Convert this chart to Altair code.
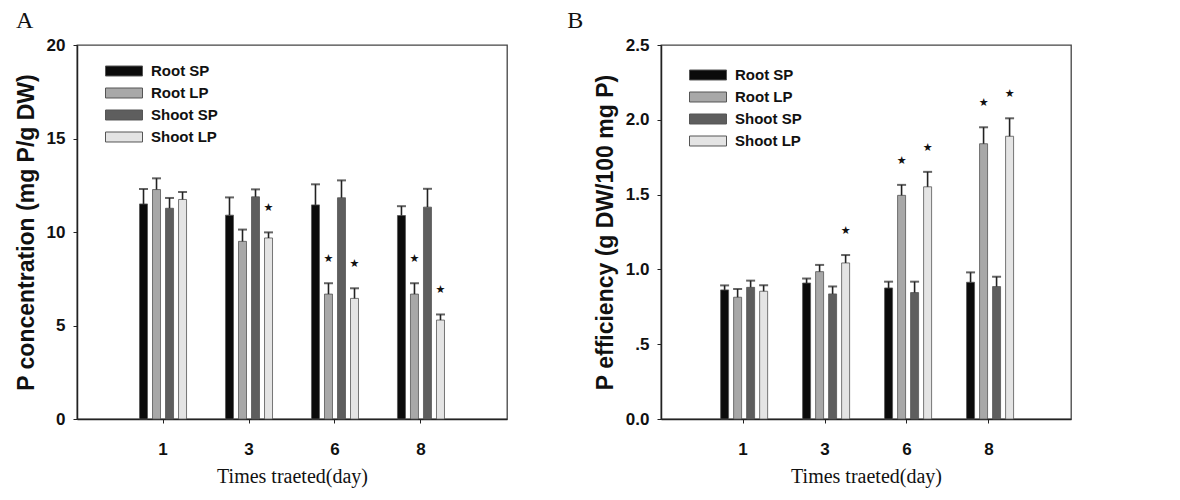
import altair as alt
import pandas as pd

days = ["1", "3", "6", "8"]
groups = ["Root SP", "Root LP", "Shoot SP", "Shoot LP"]
fill_colors = ["#0b0b0b", "#a8a8a8", "#5e5e5e", "#e4e4e4"]

# Panel A: P concentration (mg P/g DW)
conc_root_sp = [11.5, 10.9, 11.45, 10.88]
conc_root_sp_err = [0.8, 0.95, 1.1, 0.5]
conc_root_lp = [12.27, 9.5, 6.68, 6.68]
conc_root_lp_err = [0.6, 0.63, 0.58, 0.58]
conc_shoot_sp = [11.27, 11.88, 11.83, 11.33]
conc_shoot_sp_err = [0.55, 0.4, 0.93, 0.98]
conc_shoot_lp = [11.74, 9.68, 6.45, 5.29]
conc_shoot_lp_err = [0.4, 0.3, 0.54, 0.3]
conc_sig_root_sp = [False, False, False, False]
conc_sig_root_lp = [False, False, True, True]
conc_sig_shoot_sp = [False, False, False, False]
conc_sig_shoot_lp = [False, True, True, True]

# Panel B: P efficiency (g DW/100 mg P)
eff_root_sp = [0.863, 0.909, 0.876, 0.914]
eff_root_sp_err = [0.03, 0.03, 0.042, 0.066]
eff_root_lp = [0.814, 0.985, 1.495, 1.84]
eff_root_lp_err = [0.055, 0.045, 0.07, 0.11]
eff_shoot_sp = [0.88, 0.836, 0.845, 0.885]
eff_shoot_sp_err = [0.045, 0.05, 0.073, 0.066]
eff_shoot_lp = [0.854, 1.043, 1.552, 1.89]
eff_shoot_lp_err = [0.04, 0.053, 0.1, 0.12]
eff_sig_root_sp = [False, False, False, False]
eff_sig_root_lp = [False, False, True, True]
eff_sig_shoot_sp = [False, False, False, False]
eff_sig_shoot_lp = [False, True, True, True]


def make_df(values, errors, sigs):
    rows = []
    for g, vals, errs, sg in zip(groups, values, errors, sigs):
        for d, v, e, s in zip(days, vals, errs, sg):
            rows.append({"day": d, "group": g, "value": v, "top": v + e, "sig": s})
    return pd.DataFrame(rows)


df_a = make_df(
    [conc_root_sp, conc_root_lp, conc_shoot_sp, conc_shoot_lp],
    [conc_root_sp_err, conc_root_lp_err, conc_shoot_sp_err, conc_shoot_lp_err],
    [conc_sig_root_sp, conc_sig_root_lp, conc_sig_shoot_sp, conc_sig_shoot_lp],
)
df_b = make_df(
    [eff_root_sp, eff_root_lp, eff_shoot_sp, eff_shoot_lp],
    [eff_root_sp_err, eff_root_lp_err, eff_shoot_sp_err, eff_shoot_lp_err],
    [eff_sig_root_sp, eff_sig_root_lp, eff_sig_shoot_sp, eff_sig_shoot_lp],
)

LEGEND_SYMBOL = "M-1,-0.27H1V0.27H-1Z"


def panel(df, width, height, ytitle, ydomain, yvalues, label_expr, letter, letter_dx, legend_y):
    x = alt.X(
        "day:N",
        sort=days,
        title="Times traeted(day)",
        scale=alt.Scale(paddingInner=0.453, paddingOuter=0.727),
        axis=alt.Axis(
            labelAngle=0,
            labelPadding=18,
            titleFont="Liberation Serif",
            titleFontWeight="normal",
            titleFontSize=20,
            titlePadding=9,
        ),
    )
    xo = alt.XOffset(
        "group:N", sort=groups, scale=alt.Scale(paddingInner=0.385, paddingOuter=0)
    )
    yscale = alt.Scale(domain=ydomain, nice=False)
    yaxis = alt.Axis(
        values=yvalues,
        labelExpr=label_expr,
        labelPadding=8,
        titlePadding=8,
        titleFontSize=23,
    )
    y = alt.Y("value:Q", title=ytitle, scale=yscale, axis=yaxis)
    ytop = alt.Y("top:Q", title=ytitle, scale=yscale, axis=yaxis)
    color = alt.Color(
        "group:N",
        sort=groups,
        scale=alt.Scale(domain=groups, range=fill_colors),
        legend=alt.Legend(
            title=None,
            orient="none",
            legendX=28,
            legendY=legend_y,
            symbolType=LEGEND_SYMBOL,
            symbolSize=1369,
            symbolStrokeColor="#555555",
            symbolStrokeWidth=1,
            clipHeight=12,
            rowPadding=7,
            labelFont="Liberation Sans",
            labelFontWeight="bold",
            labelFontSize=15,
            labelColor="#111111",
            labelOffset=8,
            padding=0,
        ),
    )
    base = alt.Chart(df)
    bars = base.mark_bar(stroke="#555555", strokeWidth=0.8).encode(
        x=x, xOffset=xo, y=y, color=color
    )
    rules = base.mark_rule(color="#222222", strokeWidth=1.6).encode(
        x=x, xOffset=xo, y=y, y2="top:Q"
    )
    caps = base.mark_tick(color="#222222", thickness=2, size=9).encode(
        x=x, xOffset=xo, y=ytop
    )
    stars = (
        base.transform_filter("datum.sig")
        .mark_text(text="★", dy=-24, fontSize=11, font="DejaVu Sans", color="#111111")
        .encode(x=x, xOffset=xo, y=ytop)
    )
    return alt.layer(bars, rules, caps, stars).properties(
        width=width,
        height=height,
        title=alt.TitleParams(
            letter,
            anchor="start",
            frame="bounds",
            font="Liberation Serif",
            fontSize=24,
            fontWeight="normal",
            color="#111111",
            dx=letter_dx,
            offset=3,
        ),
    )


chart_a = panel(
    df_a,
    430,
    374,
    "P concentration (mg P/g DW)",
    [0, 20],
    [0, 5, 10, 15, 20],
    "format(datum.value, 'd')",
    "A",
    1,
    20,
)
chart_b = panel(
    df_b,
    410,
    374,
    "P efficiency (g DW/100 mg P)",
    [0, 2.5],
    [0, 0.5, 1.0, 1.5, 2.0, 2.5],
    "datum.value == 0.5 ? '.5' : format(datum.value, '.1f')",
    "B",
    -27,
    24,
)

chart = (
    alt.hconcat(chart_a, chart_b, spacing=58)
    .resolve_scale(color="independent")
    .resolve_legend(color="independent")
    .properties(padding={"left": 6, "top": 0, "right": 5, "bottom": 5})
    .configure_view(stroke="#444444", strokeWidth=1.3)
    .configure_axis(
        grid=False,
        labelFont="Liberation Sans",
        labelFontWeight="bold",
        labelFontSize=17,
        labelColor="#111111",
        titleFont="Liberation Sans",
        titleFontWeight="bold",
        titleColor="#111111",
        tickSize=4,
        tickColor="#222222",
        domainColor="#222222",
        domainWidth=1.5,
    )
)

chart.save("out.html", embed_options={"renderer": "svg", "actions": False})
